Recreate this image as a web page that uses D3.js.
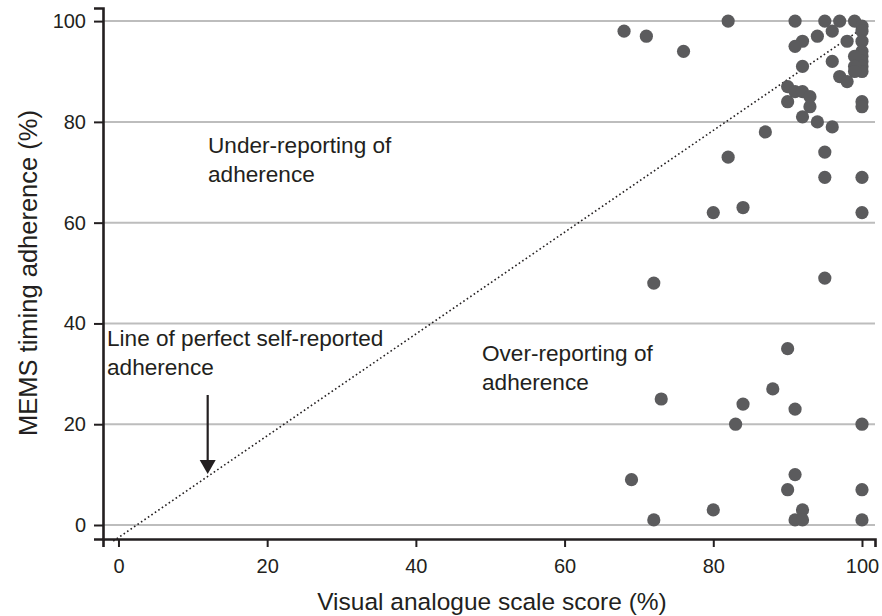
<!DOCTYPE html>
<html>
<head>
<meta charset="utf-8">
<script src="https://cdn.jsdelivr.net/npm/d3@7"></script>
<style>
	body { margin: 0; background: #fff; }
	text { font-family: "Liberation Sans", Arial, Helvetica, sans-serif; fill: #231f20; }
</style>
</head>
<body>
<div id="viz"></div>
<script>
// visual analogue scale score (%) and MEMS timing adherence (%) for each patient
var vasScores = [68, 71, 76, 82, 91, 95, 97, 99, 100, 100, 96, 94, 92, 91, 98, 100, 100, 100, 100, 100, 100,
	99, 99, 99, 96, 92, 97, 98, 90, 91, 92, 93, 90, 93, 100, 100, 92, 94, 96, 87, 82, 95, 95, 100, 80, 84, 100, 72, 95,
	90, 73, 84, 88, 91, 83, 100, 69, 91, 90, 100, 80, 92, 72, 91, 92, 100];
var memsScores = [98, 97, 94, 100, 100, 100, 100, 100, 99, 98, 98, 97, 96, 95, 96, 96, 94, 93, 92, 91, 90,
	93, 91, 90, 92, 91, 89, 88, 87, 86, 86, 85, 84, 83, 84, 83, 81, 80, 79, 78, 73, 74, 69, 69, 62, 63, 62, 48, 49,
	35, 25, 24, 27, 23, 20, 20, 9, 10, 7, 7, 3, 3, 1, 1, 1, 1];

var xTicks = [0, 20, 40, 60, 80, 100];
var yTicks = [0, 20, 40, 60, 80, 100];

// line of perfect self-reported adherence (as drawn in the figure)
var perfectLine = [{x: -0.7, y: -3.2}, {x: 99.5, y: 98}];

var points = vasScores.map(function(d, i){
	return {x: d, y: memsScores[i]};
});

var width = 882, height = 616;
var plotLeft = 103, plotRight = 875, plotTop = 8, plotBottom = 539;

var svg = d3.select("#viz")
	.append("svg")
	.attr("width", width)
	.attr("height", height);

var x = d3.scaleLinear().domain([-2.08, 101.75]).range([plotLeft, plotRight]);
var y = d3.scaleLinear().domain([-2.78, 102.6]).range([plotBottom, plotTop]);

// grid
svg.selectAll("line.grid")
	.data(yTicks)
	.enter()
	.append("line")
	.attr("class", "grid")
	.attr("x1", plotLeft)
	.attr("x2", plotRight)
	.attr("y1", function(d){ return y(d); })
	.attr("y2", function(d){ return y(d); })
	.attr("stroke", "#bdbdbd")
	.attr("stroke-width", 2);

// dotted diagonal
svg.append("line")
	.attr("x1", x(perfectLine[0].x))
	.attr("y1", y(perfectLine[0].y))
	.attr("x2", x(perfectLine[1].x))
	.attr("y2", y(perfectLine[1].y))
	.attr("stroke", "#231f20")
	.attr("stroke-width", 1.6)
	.attr("stroke-dasharray", "1.6,2.6");

// points
svg.selectAll("circle")
	.data(points)
	.enter()
	.append("circle")
	.attr("cx", function(d){ return x(d.x); })
	.attr("cy", function(d){ return y(d.y); })
	.attr("r", 6.6)
	.attr("fill", "#5b5b5d");

// axes
var xAxis = svg.append("g")
	.attr("transform", "translate(0," + plotBottom + ")")
	.call(d3.axisBottom(x).tickValues(xTicks).tickSize(8).tickPadding(5));
var yAxis = svg.append("g")
	.attr("transform", "translate(" + plotLeft + ",0)")
	.call(d3.axisLeft(y).tickValues(yTicks).tickSize(9).tickPadding(8));

[xAxis, yAxis].forEach(function(g){
	g.select(".domain").attr("stroke", "#231f20").attr("stroke-width", 2.6);
	g.selectAll(".tick line").attr("stroke", "#231f20").attr("stroke-width", 2);
	g.selectAll(".tick text")
		.attr("font-family", "Liberation Sans, Arial, sans-serif")
		.attr("font-size", 20)
		.attr("fill", "#231f20");
});
xAxis.selectAll(".tick text").attr("y", 34).attr("dy", 0);

// axis titles
svg.append("text")
	.attr("x", 492)
	.attr("y", 610)
	.attr("text-anchor", "middle")
	.attr("font-size", 24.5)
	.text("Visual analogue scale score (%)");

svg.append("text")
	.attr("transform", "translate(37,273) rotate(-90)")
	.attr("text-anchor", "middle")
	.attr("font-size", 25.5)
	.text("MEMS timing adherence (%)");

// annotations
function note(px, py, lines){
	var t = svg.append("text")
		.attr("x", px)
		.attr("y", py)
		.attr("font-size", 22.6);
	lines.forEach(function(s, i){
		t.append("tspan")
			.attr("x", px)
			.attr("dy", i == 0 ? 0 : 28.5)
			.text(s);
	});
}
note(208, 153, ["Under-reporting of", "adherence"]);
note(482, 361, ["Over-reporting of", "adherence"]);
note(107, 346, ["Line of perfect self-reported", "adherence"]);

// arrow pointing at the dotted line
var ax = x(12);
svg.append("line")
	.attr("x1", ax)
	.attr("x2", ax)
	.attr("y1", 395)
	.attr("y2", 462)
	.attr("stroke", "#231f20")
	.attr("stroke-width", 2.2);
svg.append("path")
	.attr("d", "M" + (ax - 8) + ",460 L" + (ax + 8) + ",460 L" + ax + ",474 Z")
	.attr("fill", "#231f20");
</script>
</body>
</html>
